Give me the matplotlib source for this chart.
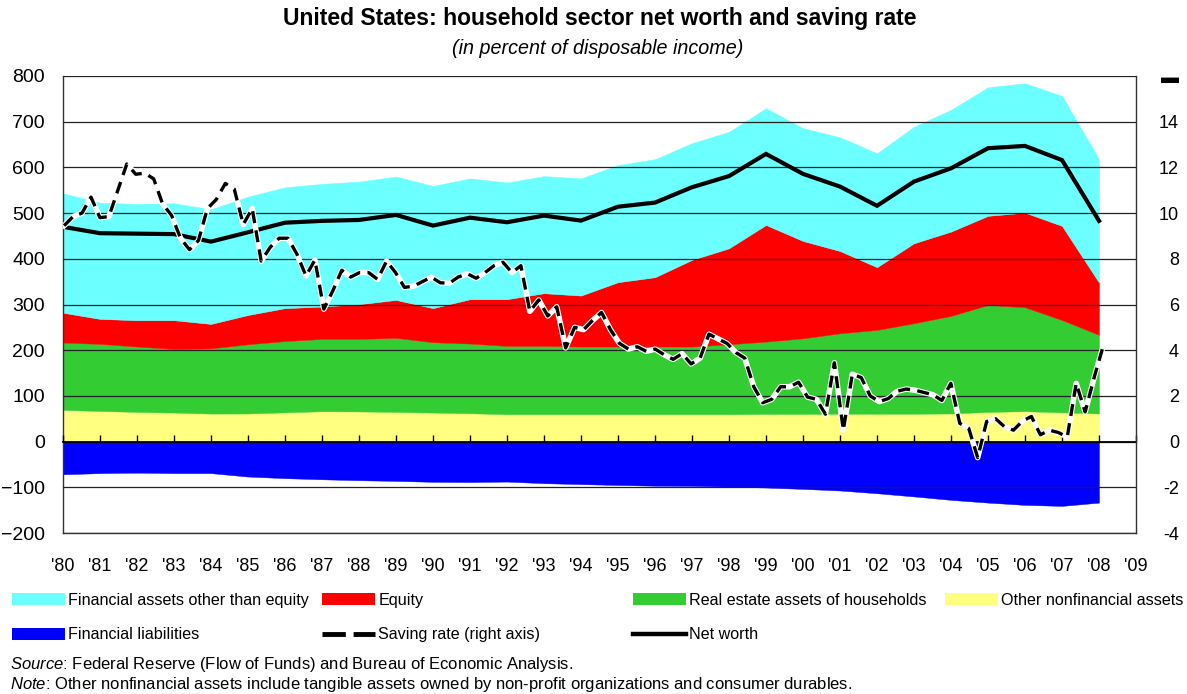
import numpy as np
import matplotlib
matplotlib.use('Agg')
import matplotlib.pyplot as plt
from matplotlib.patches import Patch
from matplotlib.lines import Line2D

plt.rcParams['font.family'] = ['Liberation Sans', 'DejaVu Sans']
plt.rcParams['mathtext.fontset'] = 'custom'
plt.rcParams['mathtext.it'] = 'Liberation Sans:italic'
plt.rcParams['mathtext.rm'] = 'Liberation Sans'

# ---------------- data (percent of disposable income) ----------------
years = np.arange(1980, 2009)
other_nonfin = [69.4, 67.0, 65.0, 63.5, 61.3, 61.5, 64.0, 66.5, 66.0, 65.0,
                63.5, 62.0, 60.0, 60.0, 60.0, 60.0, 60.0, 60.0, 60.0, 60.5,
                60.5, 61.0, 61.0, 61.0, 61.5, 65.0, 66.5, 64.0, 61.5]
real_estate = [147.3, 146.8, 143.0, 139.3, 142.7, 151.5, 156.0, 158.2, 158.7, 162.0,
               154.0, 152.5, 149.4, 149.4, 148.0, 148.0, 148.0, 148.0, 153.0, 158.3,
               165.5, 176.0, 183.4, 198.0, 213.5, 234.0, 227.5, 202.0, 172.0]
equity = [65.3, 54.7, 57.6, 62.8, 53.5, 64.0, 72.0, 70.8, 75.9, 83.0,
          74.5, 97.1, 102.2, 115.3, 111.5, 140.8, 151.7, 189.6, 210.0, 255.2,
          213.0, 180.0, 137.2, 175.0, 184.5, 195.0, 207.0, 206.0, 114.5]
fin_other = [261.5, 254.5, 254.4, 256.0, 251.0, 259.0, 264.6, 268.5, 268.4, 270.0,
             267.5, 264.4, 255.4, 256.3, 256.5, 256.2, 258.3, 255.4, 255.0, 255.5,
             247.0, 249.0, 249.4, 255.0, 266.5, 281.5, 283.0, 284.5, 270.0]
liabilities = [-71.5, -69.0, -68.0, -69.0, -69.0, -76.5, -80.0, -82.5, -84.5, -86.0,
               -88.0, -88.5, -87.5, -91.0, -93.0, -95.0, -96.5, -97.0, -98.5, -100.5,
               -103.5, -107.0, -113.0, -120.0, -127.5, -133.5, -138.5, -140.7, -133.5]
net_worth = [470, 456, 455, 454, 437.6, 458, 479, 483, 485, 496,
             472.7, 490, 480, 494.5, 483.6, 514, 523, 556.6, 581, 629.5,
             585.8, 558, 516, 569, 598, 642, 647, 616, 483]

# quarterly personal saving rate, 1980Q1 - 2009Q1 (right axis)
saving_rate = [9.45, 9.85, 10.0, 10.7, 9.8, 9.85, 11.0, 12.15, 11.7, 11.75,
               11.5, 10.4, 9.9, 8.9, 8.4, 8.8, 10.2, 10.6, 11.3, 11.05,
               9.5, 10.2, 7.9, 8.5, 8.9, 8.9, 8.2, 7.25, 7.95, 5.8,
               6.6, 7.5, 7.2, 7.4, 7.4, 7.1, 7.9, 7.4, 6.75, 6.8,
               7.0, 7.2, 6.95, 6.93, 7.2, 7.35, 7.15, 7.4, 7.7, 7.85,
               7.4, 7.7, 5.7, 6.2, 5.5, 5.9, 4.1, 5.0, 4.9, 5.3,
               5.65, 4.9, 4.3, 4.05, 4.15, 3.95, 4.05, 3.8, 3.6, 3.85,
               3.4, 3.65, 4.7, 4.5, 4.3, 3.9, 3.65, 2.4, 1.7, 1.85,
               2.4, 2.4, 2.6, 1.95, 1.85, 1.2, 3.45, 0.5, 2.95, 2.8,
               2.0, 1.75, 1.88, 2.2, 2.3, 2.25, 2.15, 2.05, 1.8, 2.55,
               0.8, 0.58, -0.7, 0.88, 1.0, 0.65, 0.5, 0.9, 1.1, 0.3,
               0.5, 0.4, 0.2, 2.55, 1.3, 2.8, 4.16]
sr_first, sr_last = 1980.03, 2008.11   # span of the quarterly series on the year axis

x_ticks = np.arange(1980, 2010)
x_labels = ["'%02d" % (y % 100) for y in x_ticks]
left_ticks = np.arange(-200, 801, 100)
right_ticks = np.arange(-4, 17, 2)
right_labels = [str(v) for v in right_ticks[:-1]] + ['\u25ac']

C_CYAN = '#6BFFFF'
C_RED = '#FF0000'
C_GREEN = '#33CC33'
C_YELLOW = '#FFFF80'
C_BLUE = '#0000FF'

# ---------------- figure ----------------
W, H = 1187, 694
fig = plt.figure(figsize=(W / 100, H / 100), dpi=100)
L, R, T, B = 63, 1136, 76, 533
ax = fig.add_axes([L / W, 1 - B / H, (R - L) / W, (B - T) / H])

ax.stackplot(years, other_nonfin, real_estate, equity, fin_other,
             colors=[C_YELLOW, C_GREEN, C_RED, C_CYAN], edgecolor='face', linewidth=0.3)
ax.fill_between(years, liabilities, 0, color=C_BLUE, edgecolor='face', linewidth=0.3)
ax.plot(years, net_worth, color='black', lw=3.0, zorder=3, solid_joinstyle='miter')

ax.set_xlim(1980, 2009)
ax.set_ylim(-200, 800)
ax.set_yticks(left_ticks)
ax.set_xticks(x_ticks)
ax.set_xticklabels(x_labels)
ax.tick_params(axis='y', length=0, pad=13, labelsize=14)
ax.tick_params(axis='x', length=0, pad=18, labelsize=13)
ax.set_axisbelow(False)
ax.grid(axis='y', color='#222222', lw=0.9)
ax.grid(axis='x', visible=False)
ax.spines['top'].set_visible(False)
ax.spines['right'].set_visible(False)
for s in ('left', 'bottom'):
    ax.spines[s].set_color('#333333')
    ax.spines[s].set_linewidth(1.0)

# zero line with year tick marks
sec = ax.secondary_xaxis(0.2)
sec.set_xticks(x_ticks)
sec.tick_params(direction='in', length=5, width=1, labelbottom=False, colors='black')
sec.spines['bottom'].set_color('black')
sec.spines['bottom'].set_linewidth(1.3)
sec.set_zorder(4)

# saving rate (right axis)
ax2 = ax.twinx()
sr_x = np.linspace(sr_first, sr_last, len(saving_rate))
ax2.plot(sr_x, saving_rate, color='white', lw=4.0, solid_joinstyle='round')
ax2.plot(sr_x, saving_rate, color='black', lw=2.4, dashes=(3.6, 2.2))
ax2.set_ylim(-4, 16)
ax2.set_yticks(right_ticks)
ax2.set_yticklabels(right_labels)
ax2.tick_params(axis='y', length=0, pad=31, labelsize=13)
for lbl in ax2.get_yticklabels():
    lbl.set_horizontalalignment('right')
for s in ('top', 'left', 'bottom'):
    ax2.spines[s].set_visible(False)
ax2.spines['right'].set_color('#333333')
ax2.spines['right'].set_linewidth(1.0)

# ---------------- titles ----------------
fig.text(600 / W, 1 - 19 / H, 'United States: household sector net worth and saving rate',
         ha='center', va='center', fontsize=16.5, fontweight='bold')
fig.text(598 / W, 1 - 48 / H, '(in percent of disposable income)',
         ha='center', va='center', fontsize=14.2, style='italic')

# ---------------- legend ----------------
leg_kw = dict(loc='upper left', frameon=False, fontsize=11.6, borderpad=0, borderaxespad=0,
              handlelength=3.3, handleheight=0.75, handletextpad=0.2, labelspacing=1.2)
cols = [
    ([Patch(facecolor=C_CYAN, edgecolor='none'), Patch(facecolor=C_BLUE, edgecolor='none')],
     ['Financial assets other than equity', 'Financial liabilities'], 12),
    ([Patch(facecolor=C_RED, edgecolor='none'),
      Line2D([], [], color='black', lw=3.5, dashes=(4.8, 1.6))],
     ['Equity', 'Saving rate (right axis)'], 322),
    ([Patch(facecolor=C_GREEN, edgecolor='none'), Line2D([], [], color='black', lw=3.2)],
     ['Real estate assets of households', 'Net worth'], 633),
    ([Patch(facecolor=C_YELLOW, edgecolor='none')], ['Other nonfinancial assets'], 945),
]
for handles, labels, x0 in cols:
    fig.legend(handles, labels, bbox_to_anchor=(x0 / W, 1 - 593 / H), **leg_kw)

fig.text(10 / W, 1 - 664 / H,
         r'$\it{Source}$: Federal Reserve (Flow of Funds) and Bureau of Economic Analysis.',
         ha='left', va='center', fontsize=12)
fig.text(10 / W, 1 - 685 / H,
         r'$\it{Note}$: Other nonfinancial assets include tangible assets owned by non-profit '
         r'organizations and consumer durables.',
         ha='left', va='center', fontsize=12)

fig.savefig('out.png', dpi=100)
